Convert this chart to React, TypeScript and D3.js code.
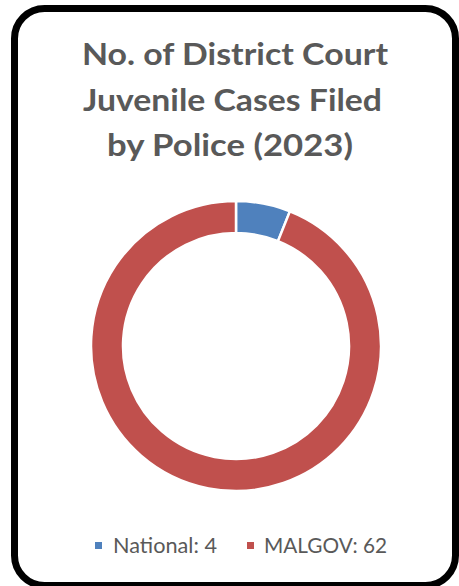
import React from "react";
import * as d3 from "d3";

const categories = ["National", "MALGOV"];
const values = [4, 62];
const colors = ["#4F81BD", "#C0504D"];
const titleLines = ["No. of District Court", "Juvenile Cases Filed", "by Police (2023)"];

export default function App() {
  const W = 459, H = 586;
  const cx = 236, cy = 346;
  const outerR = 145, innerR = 113;
  const pie = d3.pie<number>().sort(null).value((d) => d)(values);
  const arc = d3.arc<d3.PieArcDatum<number>>().innerRadius(innerR).outerRadius(outerR);
  const font = "Lato, 'Open Sans', sans-serif";
  const titleX = [82, 83, 107];
  const titleW = [306, 299, 246];
  const titleY = [65, 110.5, 156];
  return (
    <svg width={W} height={H} style={{ position: "absolute", left: 0, top: 0 }}>
      <rect x={14.5} y={8.5} width={441} height={577} rx={30} ry={30} fill="#fff" stroke="#000" strokeWidth={7} />
      {titleLines.map((t, i) => (
        <text key={i} x={titleX[i]} y={titleY[i]} textLength={titleW[i]} lengthAdjust="spacingAndGlyphs" fontFamily={font} fontWeight="bold" fontSize={31} fill="#595959">{t}</text>
      ))}
      <g transform={`translate(${cx},${cy})`}>
        {pie.map((d, i) => (
          <path key={i} d={arc(d) || ""} fill={colors[i]} stroke="#fff" strokeWidth={2.5} />
        ))}
      </g>
      <g fontFamily={font} fontSize={21} fill="#595959">
        <rect x={95} y={542} width={7} height={7} fill={colors[0]} />
        <text x={113} y={553} textLength={104} lengthAdjust="spacingAndGlyphs">{`${categories[0]}: ${values[0]}`}</text>
        <rect x={247} y={542} width={7} height={7} fill={colors[1]} />
        <text x={264} y={553} textLength={123} lengthAdjust="spacingAndGlyphs">{`${categories[1]}: ${values[1]}`}</text>
      </g>
    </svg>
  );
}
